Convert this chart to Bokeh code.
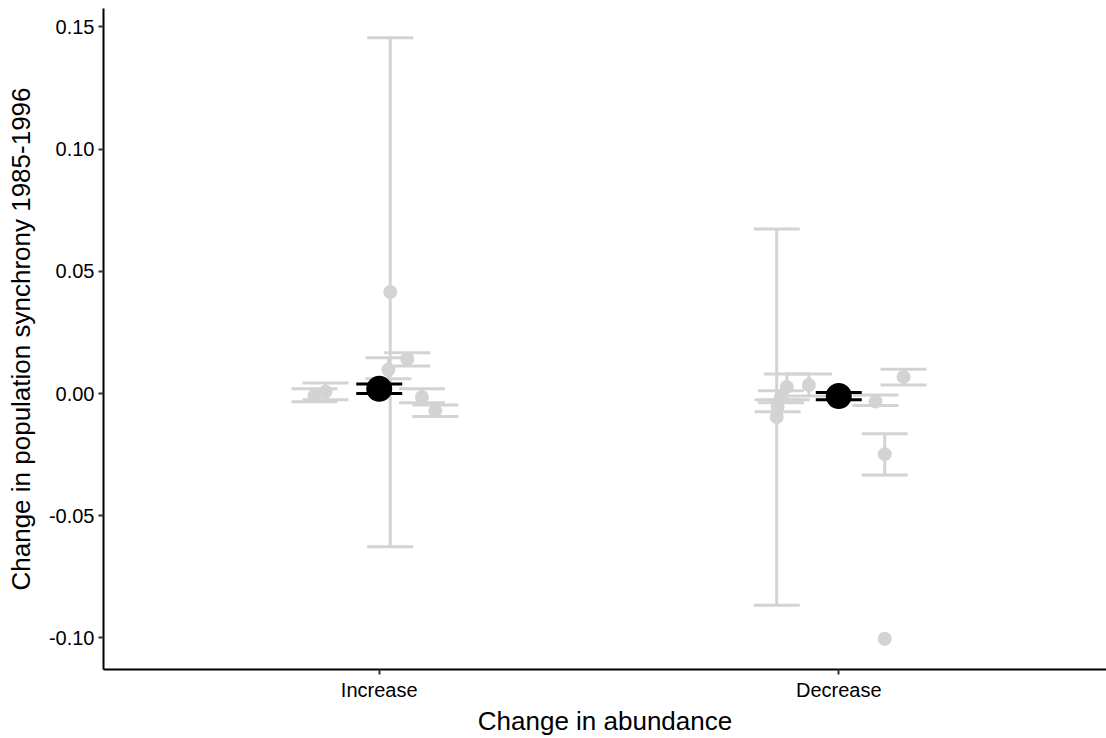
from bokeh.plotting import figure
from bokeh.models import ColumnDataSource, FixedTicker, Range1d, NumeralTickFormatter
from bokeh.embed import file_html
from bokeh.resources import INLINE

# Groups on the x axis
categories = ["Increase", "Decrease"]

# Individual estimates (grey): horizontal jitter, estimate and its interval
increase_jitter = [-0.141, -0.117, 0.024, 0.020, 0.061, 0.093, 0.122]
increase_mean = [-0.0010, 0.0007, 0.0415, 0.0097, 0.0141, -0.0014, -0.0071]
increase_lower = [-0.0034, -0.0026, -0.0627, 0.0060, 0.0113, -0.0038, -0.0094]
increase_upper = [0.0019, 0.0043, 0.1455, 0.0146, 0.0167, 0.0019, -0.0047]

decrease_jitter = [-0.135, -0.113, -0.065, -0.126, -0.133, 0.141, 0.080, 0.100, 0.100]
decrease_mean = [-0.0096, 0.0027, 0.0035, -0.0014, -0.0055, 0.0068, -0.0033, -0.0248, -0.1003]
decrease_lower = [-0.0866, -0.0026, -0.0010, -0.0038, -0.0075, 0.0035, -0.0049, -0.0333, float("nan")]
decrease_upper = [0.0673, 0.0080, 0.0080, 0.0011, -0.0026, 0.0099, -0.0006, -0.0165, float("nan")]

# Group averages (black)
group_mean = [0.0019, -0.0010]
group_lower = [0.0000, -0.0026]
group_upper = [0.0039, 0.0004]

CAP = 0.05  # half width of the error bar caps, in category units
GREY = "#d3d3d3"


def interval_source(xs, mean, lower, upper):
    return ColumnDataSource(dict(
        x=xs, mean=mean, lower=lower, upper=upper,
        left=[x - CAP for x in xs], right=[x + CAP for x in xs],
    ))


ind_x = [1 + j for j in increase_jitter] + [2 + j for j in decrease_jitter]
ind = interval_source(ind_x, increase_mean + decrease_mean,
                      increase_lower + decrease_lower,
                      increase_upper + decrease_upper)
grp = interval_source([1, 2], group_mean, group_lower, group_upper)

p = figure(width=1106, height=738,
           x_range=Range1d(0.4, 2.5826), y_range=Range1d(-0.1129, 0.1575),
           output_backend="svg", toolbar_location=None,
           min_border_left=103, min_border_right=0,
           min_border_top=8, min_border_bottom=69)
p.outline_line_color = None
p.xgrid.visible = False
p.ygrid.visible = False
p.background_fill_color = "white"
p.border_fill_color = "white"

# grey individual intervals and points
p.segment(x0="x", y0="lower", x1="x", y1="upper", source=ind,
          line_color=GREY, line_width=3)
p.segment(x0="left", y0="lower", x1="right", y1="lower", source=ind,
          line_color=GREY, line_width=3)
p.segment(x0="left", y0="upper", x1="right", y1="upper", source=ind,
          line_color=GREY, line_width=3)
p.scatter(x="x", y="mean", source=ind, size=14, fill_color=GREY,
          line_color=None)

# black group averages
p.segment(x0="left", y0="lower", x1="right", y1="lower", source=grp,
          line_color="black", line_width=3)
p.segment(x0="left", y0="upper", x1="right", y1="upper", source=grp,
          line_color="black", line_width=3)
p.segment(x0="x", y0="lower", x1="x", y1="upper", source=grp,
          line_color="black", line_width=3)
p.scatter(x="x", y="mean", source=grp, size=26, fill_color="black",
          line_color=None)

FONT = "Liberation Sans"
for ax in (p.xaxis[0], p.yaxis[0]):
    ax.axis_line_color = "black"
    ax.axis_line_width = 2
    ax.major_tick_line_color = "#333333"
    ax.major_tick_line_width = 2
    ax.major_tick_out = 5
    ax.major_tick_in = 0
    ax.minor_tick_line_color = None
    ax.major_label_text_font = FONT
    ax.major_label_text_font_size = "20px"
    ax.major_label_text_color = "black"
    ax.axis_label_text_font = FONT
    ax.axis_label_text_font_size = "26px"
    ax.axis_label_text_font_style = "normal"
    ax.axis_label_text_color = "black"

p.xaxis.ticker = FixedTicker(ticks=[1, 2])
p.xaxis.major_label_overrides = {1: categories[0], 2: categories[1]}
p.xaxis.axis_label = "Change in abundance"
p.xaxis.major_label_standoff = 4
p.xaxis.axis_label_standoff = 2

p.yaxis.ticker = FixedTicker(ticks=[-0.10, -0.05, 0.0, 0.05, 0.10, 0.15])
p.yaxis.formatter = NumeralTickFormatter(format="0.00")
p.yaxis.axis_label = "Change in population synchrony 1985-1996"
p.yaxis.major_label_standoff = 4
p.yaxis.axis_label_standoff = 10

open("out.html", "w").write(file_html(p, INLINE))
